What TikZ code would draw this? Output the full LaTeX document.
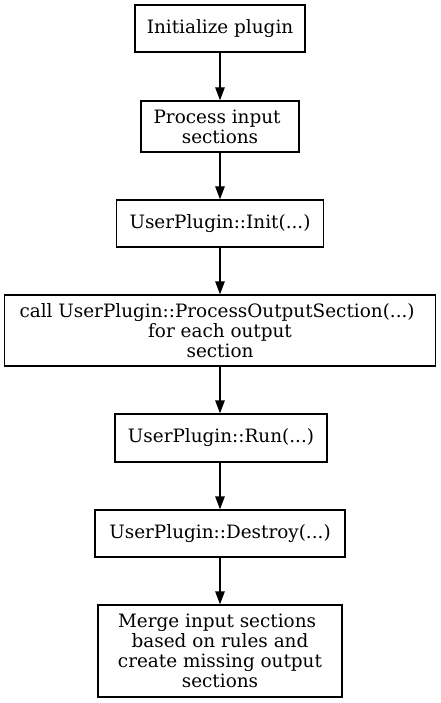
\documentclass[tikz,border=0pt]{standalone}
\usepackage{fontspec}
\setmainfont{DejaVu Serif}
\usetikzlibrary{arrows.meta}
\tikzset{
  stepbox/.style={draw, line width=1.3pt, inner sep=0pt, align=center,
    font=\fontsize{18.4}{20}\selectfont},
  flow/.style={-{Triangle[length=13pt,width=9.5pt]}, line width=1.3pt}
}
\begin{document}
\begin{tikzpicture}[x=1pt,y=-1pt]
	\useasboundingbox (0,0) rectangle (441,703);
	% steps, top to bottom
	\node[stepbox, minimum width=170pt, minimum height=47pt] (init) at (220,28.5) {Initialize plugin};
	\node[stepbox, minimum width=158pt, minimum height=51pt] (input) at (220,126.5) {\mbox{Process input\ }\\ sections};
	\node[stepbox, minimum width=207pt, minimum height=47pt] (uinit) at (220,223.5) {UserPlugin::Init(...)};
	\node[stepbox, minimum width=431pt, minimum height=71pt] (output) at (220,330.5) {\mbox{call UserPlugin::ProcessOutputSection(...)\ }\\ for each output\\ section};
	\node[stepbox, minimum width=212pt, minimum height=48pt] (run) at (221,438) {UserPlugin::Run(...)};
	\node[stepbox, minimum width=250pt, minimum height=47pt] (destroy) at (220,533.5) {UserPlugin::Destroy(...)};
	\node[stepbox, minimum width=244pt, minimum height=92pt] (merge) at (220,651) {\mbox{Merge input sections\ }\\ based on rules and\\ create missing output\\ sections};
	% arrows
	\draw[flow] (init) -- (input);
	\draw[flow] (input) -- (uinit);
	\draw[flow] (uinit) -- (output);
	\draw[flow] (output) -- (run.north -| output.south);
	\draw[flow] (run.south -| destroy.north) -- (destroy);
	\draw[flow] (destroy) -- (merge);
\end{tikzpicture}
\end{document}
